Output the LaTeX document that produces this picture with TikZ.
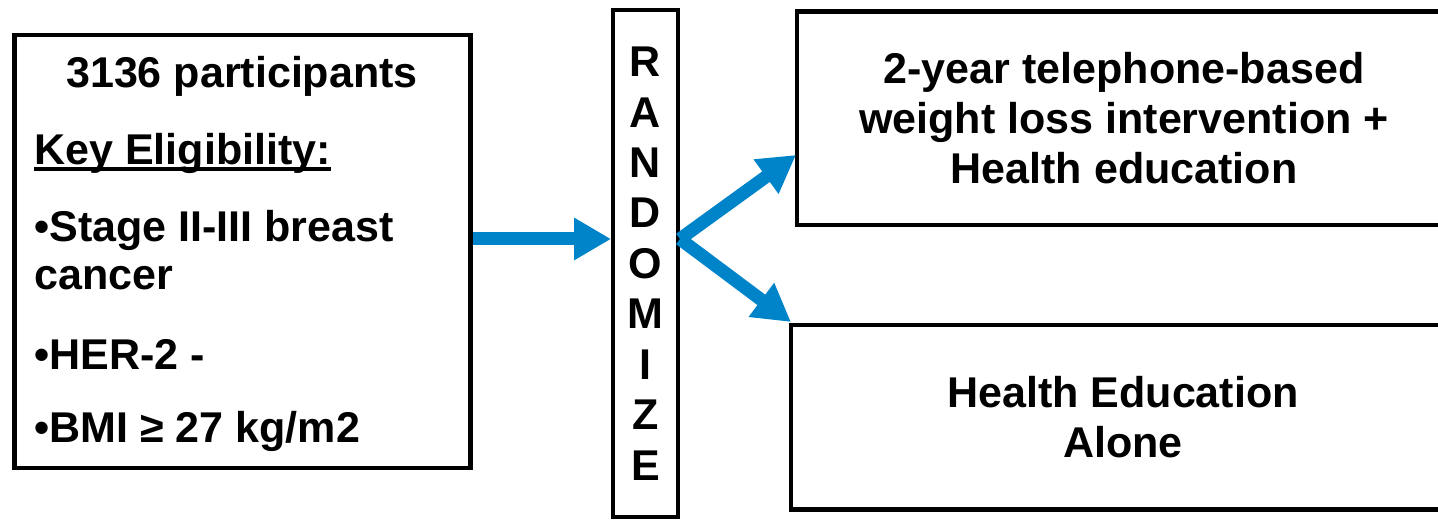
\documentclass[tikz,border=0pt]{standalone}
\usepackage{fontspec}
\setmainfont{Liberation Sans}
\usetikzlibrary{arrows.meta}
\definecolor{armblue}{RGB}{0,132,201}
\newcommand{\keyline}[1]{\setbox0=\hbox{#1}\rlap{\rule[-3.4pt]{\wd0}{2.2pt}}\box0}

\begin{document}
\begin{tikzpicture}[x=0.02cm, y=-0.02cm,
		      every node/.style={font=\fontsize{24.5}{28.5}\selectfont\bfseries, inner sep=0pt},
		      box/.style={draw, rectangle, line width=2.6pt},
		      line/.style={anchor=base west},
		      arr/.style={armblue, line width=0.26cm, -{Triangle[length=0.74cm, width=0.8cm]}}]
		      \useasboundingbox (0,0) rectangle (1438,523);
		      \clip (0,0) rectangle (1438,523);
		      \node[box, minimum width=9.12cm, minimum height=8.66cm] (elig) at (242.5,251.5) {};
		      \node[anchor=base] (count) at (242,88) {3136 participants};
		      \node[line] (key) at (34,165) {\keyline{Key Eligibility:}};
		      \node[line] (stage) at (34,242) {•Stage II-III breast};
		      \node[line] (cancer) at (34,290) {cancer};
		      \node[line] (her) at (34,370) {•HER-2 -};
		      \node[line] (bmi) at (34,443) {•BMI ≥ 27 kg/m2};
		      \node[box, line width=2.2pt, minimum width=1.3cm, minimum height=10.14cm, align=center,
			      font=\fontsize{24.5}{28.7}\selectfont\bfseries] (rand) at (645.5,263.5)
			      {R\\A\\N\\D\\O\\M\\I\\Z\\E};
		      \node[box, minimum width=13.08cm, minimum height=4.27cm, align=center] (armA) at (1124,118.25)
			      {2-year telephone-based\\weight loss intervention +\\Health education};
		      \node[box, minimum width=13.28cm, minimum height=3.69cm, align=center] (armB) at (1123,417.25)
			      {Health Education\\Alone};
		      \coordinate (fork) at (677,239);
		      \coordinate (tipA) at (796,155);
		      \coordinate (tipB) at (791,322);
		      \draw[arr] (elig.east |- fork) -- (rand.west |- fork);
		      \draw[arr] (rand.east |- fork) -- (tipA);
		      \draw[arr] (rand.east |- fork) -- (tipB);
	      \end{tikzpicture}
\end{document}
